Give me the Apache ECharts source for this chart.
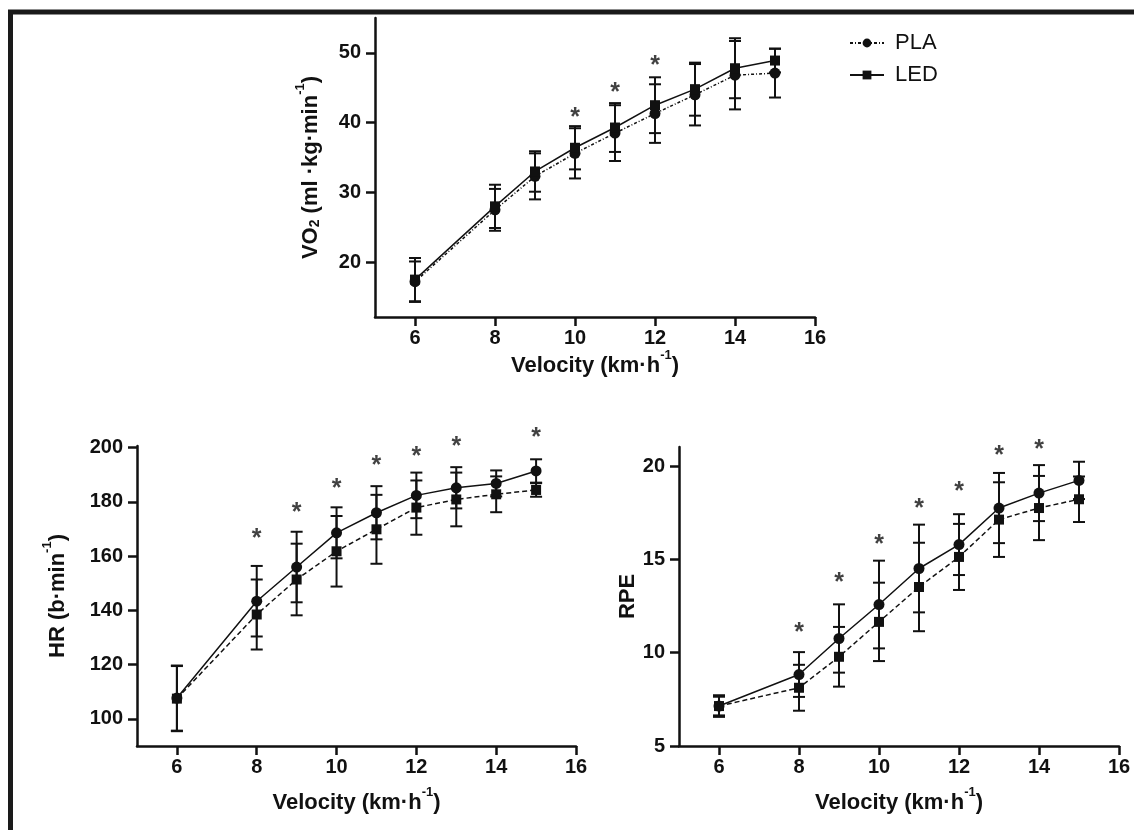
<!DOCTYPE html>
<html>
<head>
<meta charset="utf-8">
<script src="https://cdn.jsdelivr.net/npm/echarts@6/dist/echarts.min.js"></script>
<style>html,body{margin:0;padding:0;background:#fff}#c{width:1134px;height:830px}</style>
</head>
<body>
<div id="c"></div>
<script>
// ---- data ----
var velocity = [6, 8, 9, 10, 11, 12, 13, 14, 15];
var xTicks = [6, 8, 10, 12, 14, 16];

var vo2Pla   = [17.2, 27.5, 32.3, 35.6, 38.5, 41.3, 44.0, 46.8, 47.1];
var vo2PlaSd = [2.9, 3.0, 3.3, 3.6, 4.0, 4.2, 4.4, 4.9, 3.5];
var vo2Led   = [17.5, 28.0, 33.0, 36.4, 39.3, 42.5, 44.8, 47.8, 48.9];
var vo2LedSd = [3.1, 3.1, 2.9, 3.1, 3.5, 4.0, 3.8, 4.3, 1.7];
var vo2Ticks = [20, 30, 40, 50];
var vo2StarX = [10, 11, 12];
var vo2StarY = [41.5, 45.1, 49.0];

var hrPla   = [107.7, 143.4, 156.0, 168.6, 176.0, 182.4, 185.2, 186.8, 191.4];
var hrPlaSd = [12.0, 13.0, 13.0, 9.4, 9.8, 8.4, 7.6, 4.8, 4.3];
var hrLed   = [107.5, 138.5, 151.4, 161.8, 169.9, 177.9, 180.9, 182.8, 184.4];
var hrLedSd = [12.0, 12.9, 13.2, 13.0, 12.7, 10.0, 9.9, 6.6, 2.5];
var hrTicks = [100, 120, 140, 160, 180, 200];
var hrStarX = [8, 9, 10, 11, 12, 13, 15];
var hrStarY = [168.6, 177.9, 186.8, 195.5, 198.8, 202.5, 205.6];

var rpePla   = [7.14, 8.83, 10.76, 12.58, 14.51, 15.79, 17.75, 18.55, 19.23];
var rpePlaSd = [0.58, 1.2, 1.83, 2.35, 2.35, 1.63, 1.88, 1.5, 1.0];
var rpeLed   = [7.14, 8.12, 9.78, 11.65, 13.52, 15.13, 17.13, 17.75, 18.22];
var rpeLedSd = [0.5, 1.23, 1.6, 2.1, 2.37, 1.77, 2.0, 1.72, 1.22];
var rpeTicks = [5, 10, 15, 20];
var rpeStarX = [8, 9, 10, 11, 12, 13, 14];
var rpeStarY = [11.38, 14.06, 16.11, 17.99, 18.91, 20.84, 21.2];

// ---- helpers ----
var FONT = 'Liberation Sans, Arial, sans-serif';
var INK = '#111';
function pairs(xs, ys) { return xs.map(function (x, i) { return [x, ys[i]]; }); }
function bars(xs, ys, sd) { return xs.map(function (x, i) { return [x, ys[i] - sd[i], ys[i] + sd[i]]; }); }

function errorSeries(data, gi, z) {
  return {
    type: 'custom', xAxisIndex: gi, yAxisIndex: gi, z: z, silent: true,
    data: data,
    renderItem: function (params, api) {
      var x = api.value(0), lo = api.value(1), hi = api.value(2);
      var a = api.coord([x, hi]), b = api.coord([x, lo]);
      var w = 6;
      var st = { stroke: INK, lineWidth: 2 };
      return { type: 'group', children: [
        { type: 'line', shape: { x1: a[0], y1: a[1], x2: b[0], y2: b[1] }, style: st },
        { type: 'line', shape: { x1: a[0] - w, y1: a[1], x2: a[0] + w, y2: a[1] }, style: st },
        { type: 'line', shape: { x1: b[0] - w, y1: b[1], x2: b[0] + w, y2: b[1] }, style: st }
      ]};
    }
  };
}
function lineSeries(name, data, gi, symbol, dash, z) {
  return {
    name: name, type: 'line', xAxisIndex: gi, yAxisIndex: gi, z: z,
    data: data, symbol: symbol, symbolSize: symbol === 'circle' ? 11 : 10,
    showSymbol: true, clip: false,
    lineStyle: { color: INK, width: 1.5, type: dash },
    itemStyle: { color: INK, borderWidth: 0 }
  };
}
function starSeries(xs, ys, gi) {
  return {
    type: 'scatter', xAxisIndex: gi, yAxisIndex: gi, clip: false, silent: true,
    data: pairs(xs, ys), symbolSize: 1, itemStyle: { color: 'rgba(0,0,0,0)' },
    label: { show: true, position: 'inside', formatter: '*', color: INK, fontWeight: 'bold',
      fontSize: 25, fontFamily: FONT, verticalAlign: 'middle', offset: [0, 6] }
  };
}
var RICH = {
  a: { fontSize: 22, fontWeight: 'bold', fontFamily: FONT, color: INK, lineHeight: 28, verticalAlign: 'bottom' },
  s: { fontSize: 13, fontWeight: 'bold', fontFamily: FONT, color: INK, lineHeight: 28, verticalAlign: 'top' },
  b: { fontSize: 14, fontWeight: 'bold', fontFamily: FONT, color: INK, lineHeight: 21, verticalAlign: 'bottom' }
};
function xAx(gi, gap) {
  return {
    type: 'value', gridIndex: gi, min: 5, max: 16,
    name: '{a|Velocity (km·h}{s|-1}{a|)}', nameLocation: 'middle', nameGap: gap,
    nameTextStyle: { rich: RICH },
    axisLine: { show: true, onZero: false, lineStyle: { color: INK, width: 2.5 } },
    axisTick: { show: true, length: 9, customValues: xTicks, lineStyle: { color: INK, width: 2.5 } },
    axisLabel: { customValues: xTicks, fontSize: 20, fontWeight: 'bold', fontFamily: FONT, color: INK, margin: 11 },
    splitLine: { show: false }
  };
}
function yAx(gi, min, max, ticks, nameRich, gap) {
  return {
    type: 'value', gridIndex: gi, min: min, max: max,
    name: nameRich, nameLocation: 'middle', nameGap: gap, nameRotate: 90,
    nameTextStyle: { rich: RICH },
    axisLine: { show: true, onZero: false, lineStyle: { color: INK, width: 2.5 } },
    axisTick: { show: true, length: 9, customValues: ticks, lineStyle: { color: INK, width: 2.5 } },
    axisLabel: { customValues: ticks, fontSize: 20, fontWeight: 'bold', fontFamily: FONT, color: INK, margin: 14 },
    splitLine: { show: false }
  };
}

var chart = echarts.init(document.getElementById('c'), null, { renderer: 'canvas' });
chart.setOption({
  backgroundColor: '#fff',
  animation: false,
  graphic: [{ type: 'rect', shape: { x: 10.5, y: 12, width: 1200, height: 900 },
    style: { fill: 'none', stroke: '#1a1a1a', lineWidth: 5 }, z: 100 }],
  legend: {
    data: ['PLA', 'LED'], orient: 'vertical', left: 844, top: 27,
    itemWidth: 34, itemHeight: 11, itemGap: 10,
    textStyle: { fontSize: 22, fontFamily: FONT, color: INK, padding: [0, 0, 0, 6] },
    selectedMode: false
  },
  grid: [
    { left: 375, top: 18, width: 440, height: 299 },
    { left: 137, top: 446, width: 439, height: 300 },
    { left: 679, top: 447, width: 440, height: 299 }
  ],
  xAxis: [xAx(0, 28), xAx(1, 40), xAx(2, 40)],
  yAxis: [
    yAx(0, 12.14, 55, vo2Ticks, '{a|VO}{b|2}{a| (ml ·kg·min}{s|-1}{a|)}', 53),
    yAx(1, 90.04, 200.6, hrTicks, '{a|HR (b·min}{s|-1}{a|)}', 68),
    yAx(2, 5, 21.02, rpeTicks, '{a|RPE}', 38)
  ],
  series: [
    lineSeries('PLA', pairs(velocity, vo2Pla), 0, 'circle', [3, 2, 1, 2], 3),
    lineSeries('LED', pairs(velocity, vo2Led), 0, 'rect', 'solid', 4),
    errorSeries(bars(velocity, vo2Pla, vo2PlaSd), 0, 2),
    errorSeries(bars(velocity, vo2Led, vo2LedSd), 0, 2),
    starSeries(vo2StarX, vo2StarY, 0),

    lineSeries('PLA', pairs(velocity, hrPla), 1, 'circle', 'solid', 4),
    lineSeries('LED', pairs(velocity, hrLed), 1, 'rect', [5, 3], 3),
    errorSeries(bars(velocity, hrPla, hrPlaSd), 1, 2),
    errorSeries(bars(velocity, hrLed, hrLedSd), 1, 2),
    starSeries(hrStarX, hrStarY, 1),

    lineSeries('PLA', pairs(velocity, rpePla), 2, 'circle', 'solid', 4),
    lineSeries('LED', pairs(velocity, rpeLed), 2, 'rect', [5, 3], 3),
    errorSeries(bars(velocity, rpePla, rpePlaSd), 2, 2),
    errorSeries(bars(velocity, rpeLed, rpeLedSd), 2, 2),
    starSeries(rpeStarX, rpeStarY, 2)
  ]
});
</script>
</body>
</html>
